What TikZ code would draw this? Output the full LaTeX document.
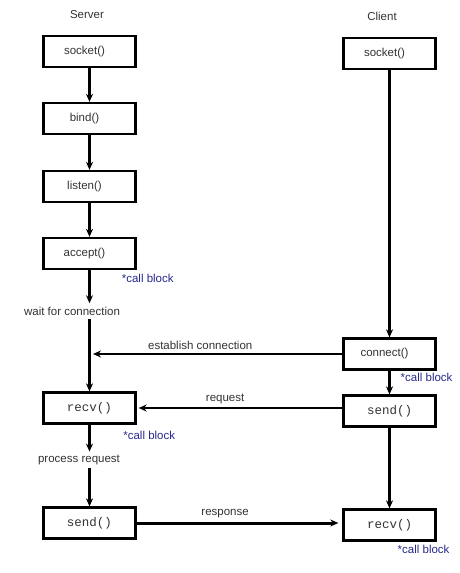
\documentclass[tikz,border=0pt]{standalone}
\usepackage{fontspec}
\setmainfont{Liberation Sans}
\setmonofont{Liberation Mono}
\usetikzlibrary{positioning, arrows.meta}
\definecolor{inkgray}{RGB}{50,50,50}
\definecolor{blockblue}{RGB}{40,40,140}

\begin{document}
\begin{tikzpicture}[x=1pt,y=-1pt,node distance=67pt,on grid,
    >={Stealth[length=8pt,width=7pt]},
    every edge/.append style={line width=2.1pt},
    every node/.style={font=\fontsize{11.5}{13}\selectfont,text=inkgray},
    call/.style={draw=black,line width=2.3pt,minimum width=92pt,minimum height=31pt},
    fn/.style={call,execute at end node={\hspace*{10pt}}},
    io/.style={call,font=\ttfamily\fontsize{12.5}{14}\selectfont},
    callblk/.style={text=blockblue,anchor=north west,inner sep=0pt}]
  \useasboundingbox (0,0) rectangle (460,573);
  % Nodes
  \node (server) at (87,15) {Server};
  \node (client) at (382,16) {Client};
  \node[fn] (ssock) at (89.5,51.5) {socket()};
  \node[fn] (sbind) [below=of ssock] {bind()};
  \node[fn] (slisten) [below=68pt of sbind] {listen()};
  \node[fn] (saccept) [below=of slisten] {accept()};
  \node (wait) at (72,311) {wait for connection};
  \node[io] (srecv) at (89.5,408) {recv()};
  \node (proc) at (79,460) {process request};
  \node[io] (ssend) at (89.5,523) {send()};
  \node[fn] (csock) at (389.5,53.5) {socket()};
  \node[fn] (cconn) at (389.5,354) {connect()};
  \node[io] (csend) at (389.5,411) {send()};
  \node[io] (crecv) at (389.5,525) {recv()};
  % Blocking notes
  \node[callblk] (naccept) at ([xshift=-15pt,yshift=-4pt]saccept.south east) {*call block};
  \node[callblk] (nsrecv) at ([xshift=-13.5pt,yshift=-6.5pt]srecv.south east) {*call block};
  \node[callblk] (ncconn) at ([xshift=11pt,yshift=-2pt]cconn.south) {*call block};
  \node[callblk] (ncrecv) at ([xshift=8pt,yshift=-3pt]crecv.south) {*call block};
  \coordinate (shook) at ([xshift=3.5pt]srecv.north |- cconn.west);
  % Server side
  \path[->]
      (ssock) edge (sbind)
      (sbind) edge (slisten)
      (slisten) edge (saccept)
      (saccept) edge (saccept |- wait.north)
      (saccept |- wait.south) edge (srecv)
      (srecv) edge (srecv |- proc.north)
      (srecv |- proc.south) edge (ssend);
  % Client side
  \path[->]
      (csock) edge (cconn)
      (cconn) edge (csend)
      (csend) edge (crecv);
  % Messages
  \path[->]
      (cconn.west) edge node[above,pos=.57] {establish connection} (shook)
      (csend.west |- srecv) edge[shorten >=2pt] node[above,pos=.57] {request} (srecv)
      (ssend) edge[line width=3pt,shorten >=4pt] node[above,pos=.43] {response} (crecv.west |- ssend);
\end{tikzpicture}
\end{document}
